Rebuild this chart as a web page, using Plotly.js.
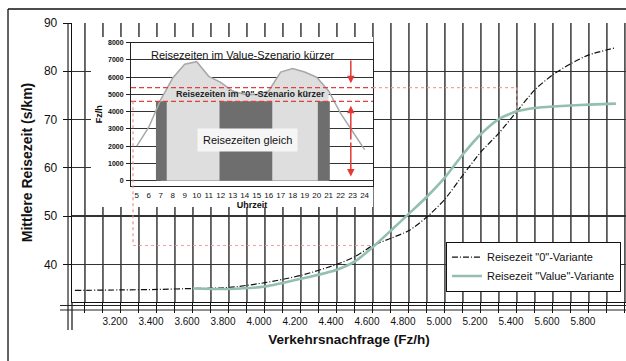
<!DOCTYPE html>
<html><head><meta charset="utf-8">
<script src="https://cdn.plot.ly/plotly-3.0.1.min.js"></script>
<style>html,body{margin:0;padding:0;background:#fff;overflow:hidden}#chart{width:626px;height:361px}</style>
</head><body><div id="chart"></div>
<script>
// ---- main chart data ----
const demand0 = [2944, 3200, 3400, 3600, 3800, 4000, 4200, 4400, 4500, 4600, 4700, 4800, 4900, 5000, 5100, 5200, 5300, 5400, 5500, 5600, 5700, 5800, 5950];
const time0   = [34.6, 34.7, 34.8, 35.0, 35.2, 36.2, 37.7, 40.0, 41.6, 43.9, 45.4, 47.0, 49.8, 53.5, 58.5, 63.3, 67.2, 71.7, 76.2, 79.3, 81.6, 83.4, 84.9];
const demandValue = [3600, 3800, 4000, 4200, 4400, 4500, 4600, 4700, 4800, 4900, 5000, 5100, 5200, 5300, 5400, 5500, 5600, 5700, 5800, 5950];
const timeValue   = [35.0, 34.9, 35.4, 37.0, 38.9, 40.6, 43.6, 47.0, 50.5, 54.0, 58.0, 62.8, 67.0, 70.1, 71.7, 72.4, 72.7, 72.9, 73.1, 73.3];
const seriesNames = ['Reisezeit "0"-Variante', 'Reisezeit "Value"-Variante'];
const xTickVals = [3200, 3400, 3600, 3800, 4000, 4200, 4400, 4600, 4800, 5000, 5200, 5400, 5600, 5800, 6000];
const xTickText = ['3.200', '3.400', '3.600', '3.800', '4.000', '4.200', '4.400', '4.600', '4.800', '5.000', '5.200', '5.400', '5.600', '5.800', '6.000'];
const yTickVals = [40, 50, 60, 70, 80, 90];
const yTickText = ['40', '50', '60', '70', '80', '90'];

// ---- inset data ----
const hours = [5, 6, 7, 8, 9, 10, 11, 12, 13, 14, 15, 16, 17, 18, 19, 20, 21, 22, 23, 24];
const hourLabels = ['5', '6', '7', '8', '9', '10', '11', '12', '13', '14', '15', '16', '17', '18', '19', '20', '21', '22', '23', '24'];
const demandHour = [2000, 3100, 4700, 5950, 6750, 6900, 6050, 5700, 5200, 5000, 5000, 5200, 6300, 6500, 6300, 6000, 5200, 3900, 2850, 1800];
const darkStart = [6.6, 11.9, 20.1];
const darkEnd   = [7.5, 16.3, 21.1];
const thresholds = [4600, 5400];
const insetTickVals = [0, 1000, 2000, 3000, 4000, 5000, 6000, 7000, 8000];
const insetTickText = ['0', '1000', '2000', '3000', '4000', '5000', '6000', '7000', '8000'];
const insetTexts = ['Reisezeiten im Value-Szenario kürzer', 'Reisezeiten im "0"-Szenario kürzer', 'Reisezeiten gleich'];

// ---- geometry ----
const MX = [2928, 6006], MY = [32.2, 90];
const IX = [4.52, 24.7], IY = [-307, 8000];
const inDomX = [0.1065, 0.5433], inDomY = [0.4158, 0.9294];
const xi = h => inDomX[0] + (h - IX[0]) / (IX[1] - IX[0]) * (inDomX[1] - inDomX[0]);
const yi = v => inDomY[0] + (v - IY[0]) / (IY[1] - IY[0]) * (inDomY[1] - inDomY[0]);
const xm = v => (v - MX[0]) / (MX[1] - MX[0]);
const ym = v => (v - MY[0]) / (MY[1] - MY[0]);

const FONT = 'Arial, "Liberation Sans", sans-serif';

// tick positions every 100, labels only at the labelled values
const allTicks = [], allText = [];
for (let v = 3000; v <= 6000; v += 100) {
  allTicks.push(v);
  const k = xTickVals.indexOf(v);
  allText.push(k >= 0 ? xTickText[k] : '');
}

// fill subset (hours 7..21)
const fi0 = hours.indexOf(7), fi1 = hours.indexOf(21);
const fillH = hours.slice(fi0, fi1 + 1), fillD = demandHour.slice(fi0, fi1 + 1);
// dark periods polygons
const darkX = [], darkY = [];
darkStart.forEach((s, i) => {
  const e = darkEnd[i], t = thresholds[0];
  darkX.push(s, e, e, s, s, null); darkY.push(0, 0, t, t, 0, null);
});

const data = [
  {x: demand0, y: time0, name: seriesNames[0], type: 'scatter', mode: 'lines',
   line: {color: '#111', width: 1.2, dash: '6px,2px,1px,2px', shape: 'spline', smoothing: 0.6}},
  {x: demandValue, y: timeValue, name: seriesNames[1], type: 'scatter', mode: 'lines',
   line: {color: '#93bfae', width: 2.6, shape: 'spline', smoothing: 0.6}},
  {x: [], y: [], xaxis: 'x2', yaxis: 'y2', type: 'scatter', showlegend: false},
  {x: fillH, y: fillD, xaxis: 'x3', yaxis: 'y3', type: 'scatter', mode: 'none', fill: 'tozeroy',
   fillcolor: '#dedede', showlegend: false},
  {x: darkX, y: darkY, xaxis: 'x3', yaxis: 'y3', type: 'scatter', mode: 'none', fill: 'toself',
   fillcolor: '#6e6e6e', showlegend: false},
  {x: hours, y: demandHour, xaxis: 'x3', yaxis: 'y3', type: 'scatter', mode: 'lines',
   line: {color: '#a8a8a8', width: 1.5}, showlegend: false}
];

const timeAtHigh = timeValue[demandValue.indexOf(thresholds[1])];
const timeAtLow = time0[demand0.indexOf(thresholds[0])];
const boxLeft = xi(IX[0]) + 2 / 554;

const L = (x0, y0, x1, y1, color, width, dash) => ({type: 'line', xref: 'paper', yref: 'paper', x0, y0, x1, y1,
  layer: 'above', line: {color, width, dash: dash || 'solid'}});

// vertical grid lines at every tick position, clipped to the main plot area
const gridShapes = allTicks.filter(v => v > MX[0] && v < MX[1]).map(v => ({type: 'line', xref: 'x', yref: 'y',
  x0: v, x1: v, y0: MY[0], y1: MY[1], layer: 'below', line: {color: '#1a1a1a', width: 1.3}}));

const shapes = gridShapes.concat([
  L(-0.1155, 1.0502, 1.0, 1.0502, '#111', 1.5),
  L(-0.1155, 1.0502, -0.1155, -0.25, '#111', 1.3),
  L(-0.0072, 1, -0.0072, -0.1004, '#222', 1.2),
  L(0, 0, 0, -0.1004, '#222', 1.3),
  L(-0.0217, -0.0125, 1, -0.0125, '#222', 1),
  L(-0.0217, -0.0287, 1, -0.0287, '#222', 1),
  // red threshold lines in inset
  L(xi(IX[0]), yi(thresholds[1]), xi(IX[1]), yi(thresholds[1]), '#e2403c', 1.3, '5px,3px'),
  L(xi(IX[0]), yi(thresholds[0]), xi(IX[1]), yi(thresholds[0]), '#e2403c', 1.3, '5px,3px'),
  // pink connectors to main chart
  L(xi(IX[1]), yi(thresholds[1]), xm(thresholds[1]), yi(thresholds[1]), '#f0a0a0', 1.2, 'dot'),
  L(xm(thresholds[1]), yi(thresholds[1]), xm(thresholds[1]), ym(timeAtHigh), '#f0a0a0', 1.2, 'dot'),
  L(boxLeft, yi(thresholds[0]), boxLeft, ym(timeAtLow), '#ee9090', 1.2, 'dot'),
  L(boxLeft, ym(timeAtLow), xm(thresholds[0]), ym(timeAtLow), '#f0a0a0', 1.2, 'dot')
]);

const arrowX = 22.85;
const arr = (tip, tail) => ({xref: 'x3', yref: 'y3', axref: 'x3', ayref: 'y3', x: arrowX, y: tip, ax: arrowX, ay: tail,
  text: '', showarrow: true, arrowhead: 2, arrowsize: 1, arrowwidth: 1.5, arrowcolor: '#e53935'});

const annotations = [
  {xref: 'x3', yref: 'y3', x: 13.9, y: 7290, text: insetTexts[0], showarrow: false,
   font: {family: FONT, size: 11, color: '#111'}},
  {xref: 'x3', yref: 'y3', x: 14.45, y: 5030, text: insetTexts[1], showarrow: false,
   font: {family: FONT, size: 9, color: '#222', weight: 'bold'}},
  {xref: 'x3', yref: 'y3', x: 14.27, y: 2360, text: insetTexts[2], showarrow: false,
   bgcolor: '#f6f6f6', borderpad: 5, font: {family: FONT, size: 11, color: '#111'}},
  arr(5650, 7050), arr(4350, 2300), arr(250, 2300)
];

const layout = {
  width: 626, height: 361,
  margin: {l: 72, r: 0, t: 23, b: 59, pad: 0},
  paper_bgcolor: '#fff', plot_bgcolor: '#fff',
  font: {family: FONT, color: '#111'},
  showlegend: true,
  legend: {x: 0.675, y: 0.127, xanchor: 'left', yanchor: 'middle', bgcolor: '#fff', bordercolor: '#111',
    borderwidth: 1, font: {family: FONT, size: 11, color: '#111'}, tracegroupgap: 0, itemwidth: 30},
  xaxis: {range: MX, tickmode: 'array', tickvals: allTicks, ticktext: allText,
    ticks: 'outside', ticklen: 10, tickcolor: '#111', tickwidth: 1,
    showgrid: false,
    showline: true, linecolor: '#111', linewidth: 1, zeroline: false,
    ticklabelshift: -6,
    tickfont: {family: FONT, size: 10, color: '#111'},
    title: {text: 'Verkehrsnachfrage (Fz/h)', font: {family: FONT, size: 13.5, color: '#111', weight: 'bold'}, standoff: 8}},
  yaxis: {range: MY, tickmode: 'array', tickvals: yTickVals, ticktext: yTickText,
    ticks: 'outside', ticklen: 8, tickcolor: '#111', tickwidth: 1,
    showgrid: true, gridcolor: '#333', gridwidth: 1.2,
    showline: true, linecolor: '#111', linewidth: 1.3, zeroline: false,
    ticklabelstandoff: 3,
    tickfont: {family: FONT, size: 12, color: '#111'},
    title: {text: 'Mittlere Reisezeit (s/km)', font: {family: FONT, size: 14, color: '#111', weight: 'bold'}, standoff: 8}},
  xaxis2: {domain: [0.0343, 0.5433], anchor: 'y2', range: [0, 1], visible: false},
  yaxis2: {domain: [0.3405, 0.9498], anchor: 'x2', range: [0, 1], visible: false},
  xaxis3: {domain: inDomX, anchor: 'y3', range: IX, tickmode: 'array', tickvals: hours, ticktext: hourLabels,
    ticks: '', showgrid: false, showline: true, mirror: true, linecolor: '#222', linewidth: 1, zeroline: false,
    ticklabelstandoff: 1,
    tickfont: {family: FONT, size: 8, color: '#111'},
    title: {text: 'Uhrzeit', font: {family: FONT, size: 9, color: '#111', weight: 'bold'}, standoff: 1}},
  yaxis3: {domain: inDomY, anchor: 'x3', range: IY, tickmode: 'array', tickvals: insetTickVals, ticktext: insetTickText,
    ticks: 'outside', ticklen: 4, tickcolor: '#222', showgrid: true, gridcolor: '#333', gridwidth: 1,
    showline: true, mirror: true, linecolor: '#222', linewidth: 1, zeroline: false,
    ticklabelstandoff: 1,
    tickfont: {family: FONT, size: 7, color: '#111', weight: 'bold'},
    title: {text: 'Fz/h', font: {family: FONT, size: 9, color: '#111', weight: 'bold'}, standoff: 3}},
  shapes: shapes,
  annotations: annotations
};

Plotly.newPlot('chart', data, layout, {staticPlot: true, displayModeBar: false});
</script>
</body></html>
